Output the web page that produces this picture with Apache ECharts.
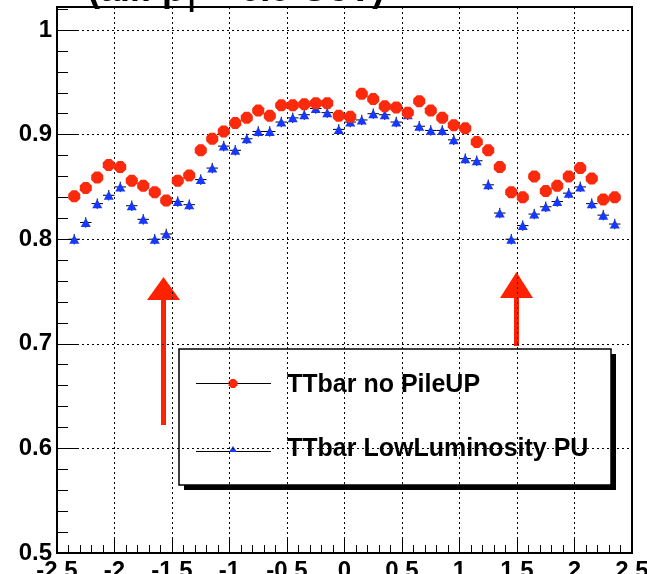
<!DOCTYPE html>
<html>
<head>
<meta charset="utf-8">
<script src="https://cdn.jsdelivr.net/npm/echarts/dist/echarts.min.js"></script>
<style>
  html, body { margin: 0; padding: 0; background: #ffffff; }
  #chart { width: 647px; height: 574px; }
</style>
</head>
<body>
<div id="chart"></div>
<script>
// Pseudorapidity bin centres (bins of 0.1 from -2.4 to 2.4)
const etaCenters = [
  -2.35, -2.25, -2.15, -2.05, -1.95, -1.85, -1.75, -1.65, -1.55, -1.45, -1.35, -1.25,
  -1.15, -1.05, -0.95, -0.85, -0.75, -0.65, -0.55, -0.45, -0.35, -0.25, -0.15, -0.05,
   0.05,  0.15,  0.25,  0.35,  0.45,  0.55,  0.65,  0.75,  0.85,  0.95,  1.05,  1.15,
   1.25,  1.35,  1.45,  1.55,  1.65,  1.75,  1.85,  1.95,  2.05,  2.15,  2.25,  2.35
];
const etaHalfBin = 0.05;

// Tracking efficiency, TTbar without pile-up
const effNoPileUp = [
  0.841, 0.849, 0.859, 0.871, 0.869, 0.856, 0.851, 0.845, 0.837, 0.856, 0.861, 0.885,
  0.896, 0.903, 0.911, 0.916, 0.923, 0.918, 0.928, 0.928, 0.929, 0.930, 0.930, 0.918,
  0.917, 0.939, 0.934, 0.927, 0.926, 0.921, 0.932, 0.923, 0.916, 0.909, 0.906, 0.893,
  0.885, 0.869, 0.845, 0.840, 0.860, 0.846, 0.851, 0.860, 0.868, 0.858, 0.838, 0.840
];

// Tracking efficiency, TTbar with low-luminosity pile-up
const effLowLumiPU = [
  0.800, 0.816, 0.834, 0.842, 0.850, 0.832, 0.819, 0.800, 0.805, 0.836, 0.833, 0.857,
  0.868, 0.889, 0.885, 0.896, 0.903, 0.903, 0.912, 0.916, 0.919, 0.925, 0.921, 0.905,
  0.912, 0.914, 0.920, 0.919, 0.912, 0.919, 0.908, 0.904, 0.904, 0.895, 0.877, 0.875,
  0.852, 0.825, 0.800, 0.813, 0.824, 0.831, 0.836, 0.844, 0.850, 0.834, 0.823, 0.8145
];

// Statistical error half-width on each efficiency point
const effError = 0.005;

const seriesNames = ['TTbar no PileUP', 'TTbar LowLuminosity PU'];
const titleText = ['(all: p', 'T', ' > 0.9 GeV)'];

const RED = '#fb2a0c';
const BLUE = '#1638ff';
const FONT = '"Liberation Sans", Arial, Helvetica, sans-serif';
const OCTAGON = 'path://M3,0H7L10,3V7L7,10H3L0,7V3Z';

function pairs(ys) {
  return etaCenters.map((x, i) => [x, ys[i]]);
}

function octagonAt(cx, cy, r) {
  const k = r * 0.4;
  return [[cx - k, cy - r], [cx + k, cy - r], [cx + r, cy - k], [cx + r, cy + k],
          [cx + k, cy + r], [cx - k, cy + r], [cx - r, cy + k], [cx - r, cy - k]];
}

function errorBars(params, api) {
  const x = api.value(0);
  const y = api.value(1);
  const left = api.coord([x - etaHalfBin, y]);
  const right = api.coord([x + etaHalfBin, y]);
  const low = api.coord([x, y - effError]);
  const high = api.coord([x, y + effError]);
  const style = { stroke: '#000', lineWidth: 1 };
  return {
    type: 'group',
    children: [
      { type: 'line', shape: { x1: left[0], y1: left[1], x2: right[0], y2: right[1] }, style },
      { type: 'line', shape: { x1: low[0], y1: low[1], x2: high[0], y2: high[1] }, style }
    ]
  };
}

const chart = echarts.init(document.getElementById('chart'), null, { renderer: 'canvas' });

const dotted = { color: '#000', width: 1, type: [2, 3] };

const option = {
  animation: false,
  backgroundColor: '#ffffff',
  grid: {
    left: 57, right: 15, top: 7, bottom: 21,
    containLabel: false, outerBoundsMode: 'none',
    show: true, borderColor: '#000', borderWidth: 2, backgroundColor: 'transparent'
  },
  xAxis: {
    type: 'value',
    min: -2.5, max: 2.5, interval: 0.5,
    axisLine: { show: true, onZero: false, lineStyle: { color: '#000', width: 2 } },
    axisTick: { show: true, inside: true, length: 15, lineStyle: { color: '#000', width: 1 } },
    minorTick: { show: true, splitNumber: 5, length: 8, lineStyle: { color: '#000', width: 1 } },
    splitLine: { show: true, lineStyle: dotted },
    axisLabel: {
      show: true, margin: 6, color: '#000', fontFamily: FONT, fontWeight: 'bold', fontSize: 24,
      verticalAlign: 'top', lineHeight: 24, hideOverlap: false
    }
  },
  yAxis: {
    type: 'value',
    min: 0.5, max: 1.022, interval: 0.1,
    axisLine: { show: true, onZero: false, lineStyle: { color: '#000', width: 2 } },
    axisTick: { show: true, inside: true, length: 21, lineStyle: { color: '#000', width: 1 } },
    minorTick: { show: true, splitNumber: 5, length: 11, lineStyle: { color: '#000', width: 1 } },
    splitLine: { show: true, lineStyle: dotted },
    axisLabel: {
      show: true, margin: 5, color: '#000', fontFamily: FONT, fontWeight: 'bold', fontSize: 24,
      showMaxLabel: false, hideOverlap: false,
      formatter: v => (v > 1.001 ? '' : String(Math.round(v * 10) / 10))
    }
  },
  series: [
    {
      type: 'custom', name: seriesNames[0] + ' errors',
      renderItem: errorBars, data: pairs(effNoPileUp), z: 3, silent: true
    },
    {
      type: 'custom', name: seriesNames[1] + ' errors',
      renderItem: errorBars, data: pairs(effLowLumiPU), z: 3, silent: true
    },
    {
      type: 'scatter', name: seriesNames[1], data: pairs(effLowLumiPU),
      symbol: 'triangle', symbolSize: [10, 9],
      itemStyle: { color: BLUE, opacity: 1 }, z: 4
    },
    {
      type: 'scatter', name: seriesNames[0], data: pairs(effNoPileUp),
      symbol: OCTAGON, symbolSize: 12,
      itemStyle: { color: RED, opacity: 1 }, z: 5
    }
  ],
  graphic: [
    // title line, partly above the top of the canvas
    {
      type: 'text', x: 88, y: -27, z: 20,
      style: {
        text: '{m|' + titleText[0] + '}{s|' + titleText[1] + '}{m|' + titleText[2] + '}',
        rich: {
          m: { fontFamily: FONT, fontWeight: 'bold', fontSize: 36, fill: '#000' },
          s: { fontFamily: FONT, fontWeight: 'bold', fontSize: 25, fill: '#000', verticalAlign: 'bottom', padding: [0, 0, -9, 0] }
        }
      }
    },
    // arrows marking the barrel / endcap transition
    {
      type: 'group', z: 15,
      children: [
        { type: 'rect', shape: { x: 161, y: 298, width: 5, height: 127 }, style: { fill: '#ff2200' } },
        { type: 'polygon', shape: { points: [[163.5, 277], [147, 300], [180, 300]] }, style: { fill: '#ff2200' } },
        { type: 'rect', shape: { x: 514, y: 296, width: 5, height: 50 }, style: { fill: '#ff2200' } },
        { type: 'polygon', shape: { points: [[516.5, 272], [500, 298], [533, 298]] }, style: { fill: '#ff2200' } }
      ]
    },
    // legend box with drop shadow
    {
      type: 'group', z: 30,
      children: [
        { type: 'rect', shape: { x: 184, y: 354, width: 432, height: 136 }, style: { fill: '#000' } },
        { type: 'rect', shape: { x: 179, y: 349, width: 432, height: 136 }, style: { fill: '#fff', stroke: '#000', lineWidth: 1.5 } },
        { type: 'line', shape: { x1: 196, y1: 383.5, x2: 271, y2: 383.5 }, style: { stroke: '#000', lineWidth: 1 } },
        { type: 'polygon', shape: { points: octagonAt(233, 383.5, 4.5) }, style: { fill: RED } },
        { type: 'text', x: 287, y: 385, style: { text: seriesNames[0], fontFamily: FONT, fontWeight: 'bold', fontSize: 25, fill: '#000', verticalAlign: 'middle' } },
        { type: 'line', shape: { x1: 196, y1: 451.5, x2: 271, y2: 451.5 }, style: { stroke: '#000', lineWidth: 1 } },
        { type: 'polygon', shape: { points: [[233, 446], [229, 452], [237, 452]] }, style: { fill: BLUE } },
        { type: 'text', x: 287, y: 449, style: { text: seriesNames[1], fontFamily: FONT, fontWeight: 'bold', fontSize: 25, fill: '#000', verticalAlign: 'middle' } }
      ]
    }
  ]
};

chart.setOption(option);
</script>
</body>
</html>
